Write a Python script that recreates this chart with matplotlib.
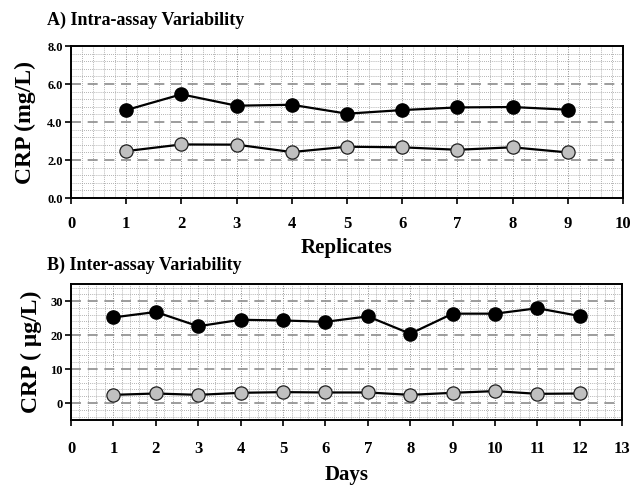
import matplotlib
matplotlib.use("Agg")
import matplotlib.pyplot as plt
from matplotlib.ticker import MultipleLocator

plt.rcParams['font.family'] = ['Liberation Serif', 'DejaVu Serif']
plt.rcParams['font.weight'] = 'bold'

# --- data ---
replicates = [1, 2, 3, 4, 5, 6, 7, 8, 9]
intra_high = [4.63, 5.46, 4.86, 4.91, 4.44, 4.63, 4.77, 4.79, 4.65]
intra_low = [2.47, 2.82, 2.81, 2.42, 2.70, 2.67, 2.54, 2.67, 2.40]

days = [1, 2, 3, 4, 5, 6, 7, 8, 9, 10, 11, 12]
inter_high = [25.2, 26.8, 22.6, 24.5, 24.3, 23.9, 25.5, 20.4, 26.3, 26.3, 27.9, 25.6]
inter_low = [2.4, 2.8, 2.4, 3.0, 3.2, 3.1, 3.1, 2.4, 3.0, 3.5, 2.7, 2.8]

fig = plt.figure(figsize=(6.3, 4.87), dpi=100)
ax1 = fig.add_axes([0.1127, 0.5934, 0.876, 0.312])
ax2 = fig.add_axes([0.1127, 0.1376, 0.875, 0.279])


def style(ax, xmax, ymin, ymax, ymaj, ymin_step, fmt, xpad):
    ax.set_xlim(0, xmax)
    ax.set_ylim(ymin, ymax)
    ax.xaxis.set_major_locator(MultipleLocator(1))
    ax.xaxis.set_minor_locator(MultipleLocator(0.2))
    ax.yaxis.set_major_locator(MultipleLocator(ymaj))
    ax.yaxis.set_minor_locator(MultipleLocator(ymin_step))
    ax.grid(which='minor', color='#9a9a9a', linestyle=(0, (1, 1.5)), linewidth=0.6)
    ax.grid(which='major', axis='x', color='#8a8a8a', linestyle=(0, (1, 1.5)), linewidth=0.7)
    ax.grid(which='major', axis='y', color='#8c8c8c', linestyle=(0, (6, 4)), linewidth=1.2)
    ax.set_axisbelow(True)
    for s in ax.spines.values():
        s.set_linewidth(1.4)
    ax.tick_params(axis='x', which='major', direction='out', length=4, width=1.2,
                   pad=xpad, labelsize=12)
    ax.tick_params(axis='y', which='major', direction='out', length=4, width=1.2,
                   pad=2, labelsize=9)
    ax.tick_params(which='minor', length=0)
    ax.yaxis.set_major_formatter(fmt)


def series(ax, x, hi, lo):
    ax.plot(x, hi, color='black', linewidth=1.6, marker='o', markersize=9.5,
            markerfacecolor='black', markeredgecolor='black', zorder=3)
    ax.plot(x, lo, color='black', linewidth=1.6, marker='o', markersize=9.5,
            markerfacecolor='#c0c0c0', markeredgecolor='#202020',
            markeredgewidth=0.9, zorder=3)


style(ax1, 10, 0, 8, 2, 0.4, '{x:.1f}', 9)
series(ax1, replicates, intra_high, intra_low)
ax1.set_xlabel('Replicates', fontsize=15, fontweight='bold', labelpad=4)
ax1.set_ylabel('CRP (mg/L)', fontsize=17, fontweight='bold', labelpad=8)
fig.text(0.075, 0.958, 'A) Intra-assay Variability', fontsize=13,
         fontweight='bold', va='center')

style(ax2, 13, -5, 35, 10, 2, '{x:.0f}', 11)
ax2.set_yticks([0, 10, 20, 30])
series(ax2, days, inter_high, inter_low)
ax2.set_xlabel('Days', fontsize=15, fontweight='bold', labelpad=6)
ax2.set_ylabel('CRP ( \u03bcg/L)', fontsize=17, fontweight='bold', labelpad=6)
fig.text(0.075, 0.455, 'B) Inter-assay Variability', fontsize=13,
         fontweight='bold', va='center')

fig.savefig('out.png', dpi=100, facecolor='white')
